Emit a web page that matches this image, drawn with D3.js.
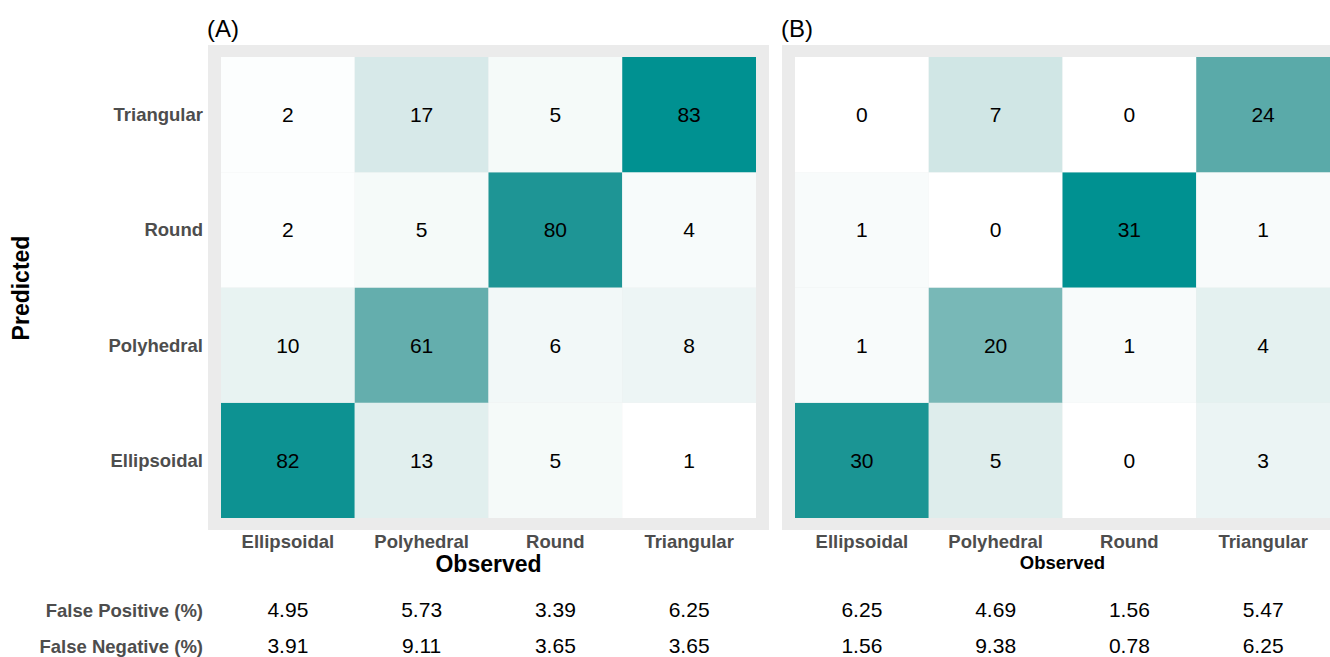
<!DOCTYPE html>
<html>
<head>
<meta charset="utf-8">
<script src="https://cdn.jsdelivr.net/npm/d3@7"></script>
<style>
  body { margin: 0; background: #fff; }
  svg { display: block; font-family: "Liberation Sans", Arial, sans-serif; }
</style>
</head>
<body>
<svg width="1330" height="657"></svg>
<script>
const classes = ["Ellipsoidal", "Polyhedral", "Round", "Triangular"];

// rows = predicted, columns = observed
const countsA = [
    [82, 13, 5, 1],   // Ellipsoidal
    [10, 61, 6, 8],   // Polyhedral
    [2, 5, 80, 4],    // Round
    [2, 17, 5, 83]    // Triangular
];
const countsB = [
    [30, 5, 0, 3],
    [1, 20, 1, 4],
    [1, 0, 31, 1],
    [0, 7, 0, 24]
];

const falsePosA = ["4.95", "5.73", "3.39", "6.25"];
const falseNegA = ["3.91", "9.11", "3.65", "3.65"];
const falsePosB = ["6.25", "4.69", "1.56", "5.47"];
const falseNegB = ["1.56", "9.38", "0.78", "6.25"];

const svg = d3.select("svg");
const tileColor = "#009191";
const gray = "#EBEBEB";
const tickColor = "#4D4D4D";

const panels = [
    {tag: "(A)", counts: countsA, fp: falsePosA, fn: falseNegA, x0: 221, obsSize: 23, obsY: 572},
    {tag: "(B)", counts: countsB, fp: falsePosB, fn: falseNegB, x0: 795, obsSize: 18.5, obsY: 569}
];

const tileW = 535, tileTop = 57, tileBottom = 518, pad = 13;

panels.forEach(p => {
    const g = svg.append("g");
    const x = d3.scaleBand().domain(classes).range([p.x0, p.x0 + tileW]);
    const y = d3.scaleBand().domain(classes).range([tileBottom, tileTop]);

    const cells = [];
    p.counts.forEach((row, i) => row.forEach((v, j) => {
        cells.push({pred: classes[i], obs: classes[j], n: v});
    }));

    const color = d3.scaleLinear()
        .domain(d3.extent(cells, d => d.n))
        .range(["#ffffff", tileColor])
        .interpolate(d3.interpolateLab);

    // panel background
    g.append("rect")
        .attr("x", p.x0 - pad).attr("y", tileTop - 12)
        .attr("width", tileW + 2 * pad).attr("height", tileBottom - tileTop + 24)
        .attr("fill", gray);

    g.selectAll("rect.tile")
        .data(cells)
        .enter().append("rect")
        .attr("class", "tile")
        .attr("x", d => x(d.obs))
        .attr("y", d => y(d.pred))
        .attr("width", x.bandwidth())
        .attr("height", y.bandwidth())
        .attr("fill", d => color(d.n));

    g.selectAll("text.val")
        .data(cells)
        .enter().append("text")
        .attr("class", "val")
        .attr("x", d => x(d.obs) + x.bandwidth() / 2)
        .attr("y", d => y(d.pred) + y.bandwidth() / 2)
        .attr("text-anchor", "middle")
        .attr("dominant-baseline", "central")
        .attr("font-size", 21)
        .attr("fill", "#000")
        .text(d => d.n);

    // observed axis labels
    g.selectAll("text.xtick")
        .data(classes)
        .enter().append("text")
        .attr("x", d => x(d) + x.bandwidth() / 2)
        .attr("y", 548)
        .attr("text-anchor", "middle")
        .attr("font-size", 18.5)
        .attr("font-weight", "bold")
        .attr("fill", tickColor)
        .text(d => d);

    g.append("text")
        .attr("x", p.x0 - pad - 1)
        .attr("y", p.obsY)
        .attr("x", p.x0 + tileW / 2)
        .attr("text-anchor", "middle")
        .attr("font-size", p.obsSize)
        .attr("font-weight", "bold")
        .attr("fill", "#000")
        .text("Observed");

    g.append("text")
        .attr("x", p.x0 - pad - 1)
        .attr("y", 37)
        .attr("font-size", 24)
        .attr("fill", "#000")
        .text(p.tag);

    // FP / FN rows
    [[p.fp, 617], [p.fn, 653]].forEach(([vals, yy]) => {
        g.selectAll(null)
            .data(vals)
            .enter().append("text")
            .attr("x", (d, i) => x(classes[i]) + x.bandwidth() / 2)
            .attr("y", yy)
            .attr("text-anchor", "middle")
            .attr("font-size", 21)
            .attr("fill", "#000")
            .text(d => d);
    });

    if (p.tag === "(A)") {
        g.selectAll("text.ytick")
            .data(classes)
            .enter().append("text")
            .attr("x", 203)
            .attr("y", d => y(d) + y.bandwidth() / 2)
            .attr("text-anchor", "end")
            .attr("dominant-baseline", "central")
            .attr("font-size", 18.5)
            .attr("font-weight", "bold")
            .attr("fill", tickColor)
            .text(d => d);
    }
});

svg.append("text")
    .attr("transform", "translate(29,288) rotate(-90)")
    .attr("text-anchor", "middle")
    .attr("font-size", 23)
    .attr("font-weight", "bold")
    .attr("fill", "#000")
    .text("Predicted");

[["False Positive (%)", 617], ["False Negative (%)", 653]].forEach(([t, yy]) => {
    svg.append("text")
        .attr("x", 203)
        .attr("y", yy)
        .attr("text-anchor", "end")
        .attr("font-size", 18.5)
        .attr("font-weight", "bold")
        .attr("fill", tickColor)
        .text(t);
});
</script>
</body>
</html>
